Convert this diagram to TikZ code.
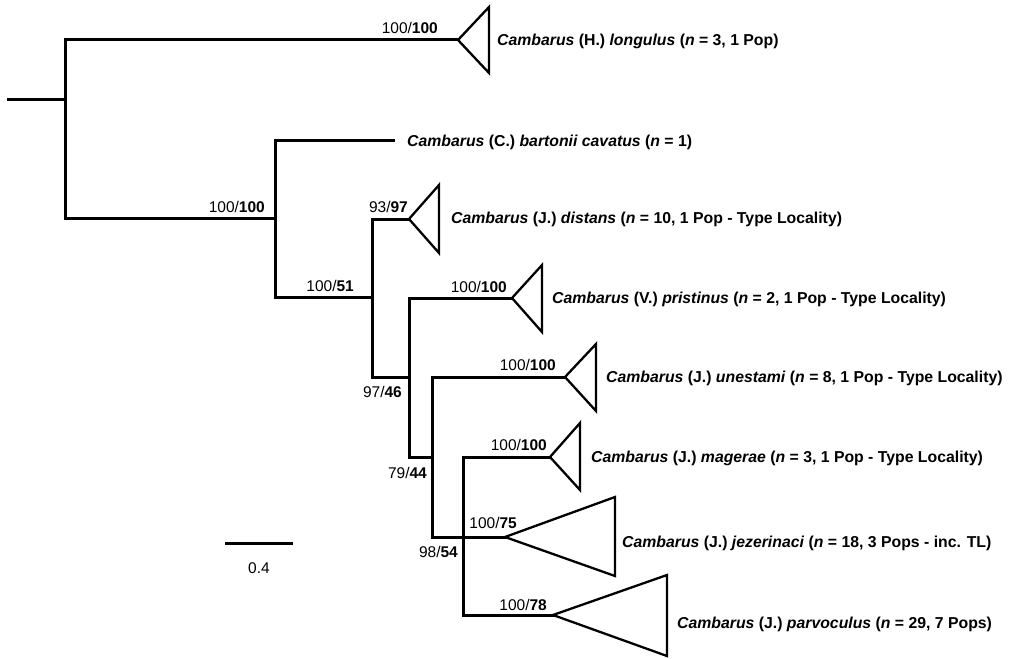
\documentclass[tikz,border=0pt]{standalone}
\usepackage{fontspec}
\setmainfont{Liberation Sans}
\begin{document}
\begin{tikzpicture}[x=1pt,y=-1pt,
  branch/.style={line width=3pt,line join=miter,line cap=rect},
  clade/.style={line width=2.3pt,line join=miter},
  suplab/.style={anchor=east,inner sep=0pt,font=\fontsize{15.5}{18}\selectfont},
  taxlab/.style={anchor=base west,inner sep=0pt,font=\fontsize{15.8}{18}\selectfont\bfseries},
  scalelab/.style={inner sep=0pt,font=\fontsize{15.5}{18}\selectfont}]
\useasboundingbox (0,0) rectangle (1016,658);
\newcommand{\suppv}[2]{#1/\textbf{#2}}
% tree nodes
\coordinate (r0) at (8,100);
\coordinate (n0) at (65,100);
\coordinate (n1) at (275,218);
\coordinate (n2) at (372,297);
\coordinate (n3) at (409,377);
\coordinate (n4) at (432,457);
\coordinate (n5) at (463,537);
% tips
\coordinate (L) at (458,40);
\coordinate (B) at (393,140);
\coordinate (D) at (409,219);
\coordinate (P) at (512,298);
\coordinate (U) at (565,377);
\coordinate (M) at (550,457);
\coordinate (J) at (505,537);
\coordinate (V) at (553,615);
% branches
\draw[branch] (r0) -- (n0);
\draw[branch] (L) -| (n0) |- (n1);
\draw[branch] (B) -| (n1) |- (n2);
\draw[branch] (D) -| (n2) |- (n3);
\draw[branch] (P) -| (n3) |- (n4);
\draw[branch] (U) -| (n4) |- (n5);
\draw[branch] (M) -| (n5) |- (V);
\draw[branch] (n5) -- (J);
% collapsed clades
\draw[clade] (L) -- ++(31,-33) -- ++(0,66) -- cycle;
\draw[clade] (D) -- ++(30,-34) -- ++(0,68) -- cycle;
\draw[clade] (P) -- ++(30,-33) -- ++(0,67) -- cycle;
\draw[clade] (U) -- ++(31,-33) -- ++(0,67) -- cycle;
\draw[clade] (M) -- ++(30,-34) -- ++(0,67) -- cycle;
\draw[clade] (J) -- ++(110,-40) -- ++(0,79) -- cycle;
\draw[clade] (V) -- ++(114,-40) -- ++(0,81) -- cycle;
% support values
\node[suplab] (s1) at (438,28) {\suppv{100}{100}};
\node[suplab] (s2) at (265,207) {\suppv{100}{100}};
\node[suplab] (s3) at (408,207) {\suppv{93}{97}};
\node[suplab] (s4) at (354,286) {\suppv{100}{51}};
\node[suplab] (s5) at (507,287) {\suppv{100}{100}};
\node[suplab] (s6) at (402,392) {\suppv{97}{46}};
\node[suplab] (s7) at (556,365) {\suppv{100}{100}};
\node[suplab] (s8) at (547,445) {\suppv{100}{100}};
\node[suplab] (s9) at (427,473) {\suppv{79}{44}};
\node[suplab] (s10) at (517,523) {\suppv{100}{75}};
\node[suplab] (s11) at (458,552) {\suppv{98}{54}};
\node[suplab] (s12) at (547,605) {\suppv{100}{78}};
% taxon labels
\node[taxlab] (tL) at (497,45.5) {\textit{Cambarus} (H.) \textit{longulus} (\textit{n} = 3, 1 Pop)};
\node[taxlab] (tB) at (407,146.5) {\textit{Cambarus} (C.) \textit{bartonii cavatus} (\textit{n} = 1)};
\node[taxlab] (tD) at (451,223.5) {\textit{Cambarus} (J.) \textit{distans} (\textit{n} = 10, 1 Pop - Type Locality)};
\node[taxlab] (tP) at (552,303.5) {\textit{Cambarus} (V.) \textit{pristinus} (\textit{n} = 2, 1 Pop - Type Locality)};
\node[taxlab] (tU) at (606,382.5) {\textit{Cambarus} (J.) \textit{unestami} (\textit{n} = 8, 1 Pop - Type Locality)};
\node[taxlab] (tM) at (591,462.5) {\textit{Cambarus} (J.) \textit{magerae} (\textit{n} = 3, 1 Pop - Type Locality)};
\node[taxlab] (tJ) at (622,547.5) {\textit{Cambarus} (J.) \textit{jezerinaci} (\textit{n} = 18, 3 Pops - inc. TL)};
\node[taxlab] (tV) at (677,628.5) {\textit{Cambarus} (J.) \textit{parvoculus} (\textit{n} = 29, 7 Pops)};
% scale bar
\coordinate (sb0) at (225,543);
\coordinate (sb1) at (293,543);
\draw[branch,line cap=butt] (sb0) -- (sb1);
\node[scalelab] (sbl) at (259,568) {0.4};
\end{tikzpicture}
\end{document}
